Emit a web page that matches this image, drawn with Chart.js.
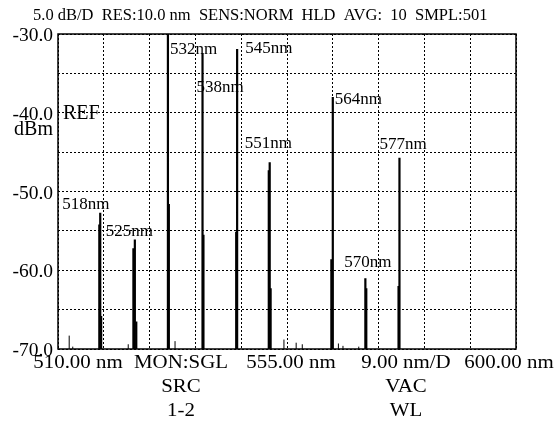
<!DOCTYPE html>
<html><head><meta charset="utf-8">
<script src="https://cdn.jsdelivr.net/npm/chart.js@4/dist/chart.umd.min.js"></script>
<style>html,body{margin:0;padding:0;background:#fff}#wrap{width:559px;height:422px;position:relative}</style>
</head><body><div id="wrap"><canvas id="c" width="559" height="422"></canvas></div>
<script>
// ---- data ----
const peakLabels = ["518nm","525nm","532nm","538nm","545nm","551nm","564nm","570nm","577nm"];
const peakWavelengths = [518.3,525.1,531.6,538.4,545.2,551.6,564.0,570.4,577.1];
const peakLevels = [-52.7,-56.1,-28.0,-32.4,-31.9,-46.3,-38.0,-61.0,-45.7];
const shoulderWavelengths = [518.1,518.5,524.8,525.4,531.8,538.6,545.0,551.4,551.8,563.7,570.6,576.9];
const shoulderLevels = [-54.2,-65.8,-57.2,-66.5,-51.6,-55.5,-55.1,-47.3,-62.3,-58.6,-62.3,-62.0];
const noiseWavelengths = [512.2,512.9,523.8,533.0,554.4,556.8,558.0,565.1,566.0,569.1];
const noiseLevels = [-68.3,-69.7,-69.4,-69.0,-68.8,-69.2,-69.4,-69.3,-69.6,-69.7];
const headerText = "5.0 dB/D  RES:10.0 nm  SENS:NORM  HLD  AVG:  10  SMPL:501";
const bottomRow1 = ["510.00 nm","MON:SGL","555.00 nm","9.00 nm/D","600.00 nm"];
const bottomRow2 = ["","SRC","","VAC",""];
const bottomRow3 = ["","1-2","","WL",""];
const xMin = 510, xMax = 600, xStep = 9;
const yMin = -70, yMax = -30, yStep = 5;

function spikes(wls, lv){
  const pts = [];
  wls.forEach((w,i)=>{ pts.push({x:w,y:yMin},{x:w,y:lv[i]},{x:w,y:null}); });
  return pts;
}

const FONT = "'Liberation Serif','Times New Roman',serif";
// label offsets (px) relative to the peak top
const labelOffsets = [[-38,-8],[-29,-8],[2,31],[-6,35],[8,0],[-25,-19],[2,3],[-21,-16],[-20,-13]];

const decor = {
  id:'decor',
  afterDraw(chart){
    const {ctx, chartArea:a, scales:{x,y}} = chart;
    ctx.save();
    ctx.strokeStyle='#000'; ctx.lineWidth=1.5;
    ctx.strokeRect(a.left, a.top, a.right-a.left, a.bottom-a.top);
    ctx.fillStyle='#000';
    ctx.textBaseline='middle';
    ctx.font = "16.5px "+FONT;
    ctx.textAlign='left';
    ctx.fillText(headerText, 33, 16);
    ctx.font = "20px "+FONT;
    ctx.fillText("REF", a.left+5, y.getPixelForValue(-40)+1);
    ctx.textAlign='right';
    ctx.fillText("dBm", a.left-5, y.getPixelForValue(-40)+17);
    ctx.font = "17px "+FONT;
    ctx.textAlign='left';
    peakLabels.forEach((t,i)=>{
      const px = x.getPixelForValue(peakWavelengths[i]);
      const py = y.getPixelForValue(peakLevels[i]);
      ctx.fillText(t, px+labelOffsets[i][0], py+labelOffsets[i][1]);
    });
    ctx.textAlign='center';
    ctx.font = "18.5px "+FONT;
    const cols = [78,181,291,406,509];
    [bottomRow1,bottomRow2,bottomRow3].forEach((row,r)=>{
      row.forEach((t,i)=>{ if(!t) return;
        ctx.save(); ctx.translate(cols[i], a.bottom+14+r*24); ctx.scale(1.13,1);
        ctx.fillText(t, 0, 0); ctx.restore(); });
    });
    ctx.restore();
  }
};

new Chart(document.getElementById('c'), {
  type:'scatter',
  data:{datasets:[
    {data:spikes(peakWavelengths,peakLevels), showLine:true, borderColor:'#000', borderWidth:2.2, pointRadius:0, spanGaps:false},
    {data:spikes(shoulderWavelengths,shoulderLevels), showLine:true, borderColor:'#000', borderWidth:2, pointRadius:0, spanGaps:false},
    {data:spikes(noiseWavelengths,noiseLevels), showLine:true, borderColor:'#000', borderWidth:1, pointRadius:0, spanGaps:false}
  ]},
  options:{
    responsive:false, animation:false, devicePixelRatio:1,
    layout:{padding:{left:0,right:43,top:34,bottom:0}},
    plugins:{legend:{display:false}, tooltip:{enabled:false}},
    scales:{
      x:{type:'linear', min:xMin, max:xMax,
         ticks:{stepSize:xStep, display:false},
         grid:{color:'#000', lineWidth:1, drawTicks:false},
         border:{display:false, dash:[2,2]},
         afterFit(s){ s.height = 73; }},
      y:{type:'linear', min:yMin, max:yMax,
         ticks:{stepSize:yStep, color:'#000', padding:5, labelOffset:2, font:{family:FONT, size:19.5},
                callback:(v)=> (v%10===0 ? v.toFixed(1) : '')},
         grid:{color:'#000', lineWidth:1, drawTicks:false},
         border:{display:false, dash:[2,2]},
         afterFit(s){ s.width = 58; }}
    }
  },
  plugins:[decor]
});
</script></body></html>
